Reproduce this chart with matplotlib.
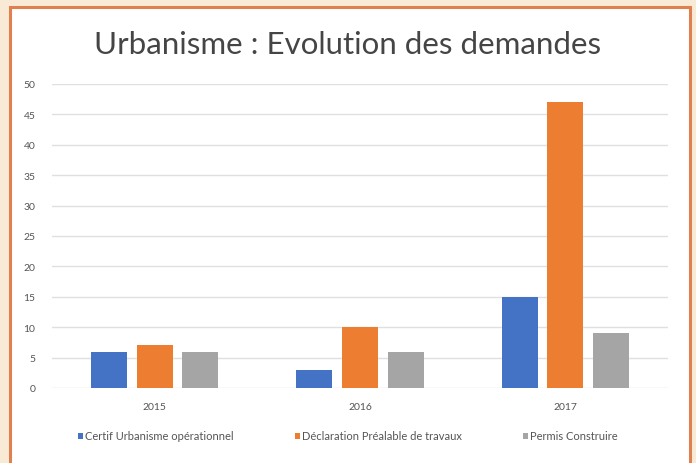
import numpy as np
import matplotlib
matplotlib.use("Agg")
import matplotlib.pyplot as plt
from matplotlib.patches import Rectangle

# data
years = ["2015", "2016", "2017"]
certif = [6, 3, 15]
declaration = [7, 10, 47]
permis = [6, 6, 9]
series_names = ["Certif Urbanisme opérationnel", "Déclaration Préalable de travaux", "Permis Construire"]
colors = ["#4472c4", "#ed7d31", "#a5a5a5"]

plt.rcParams['font.family'] = ['Lato', 'DejaVu Sans']

fig = plt.figure(figsize=(6.96, 4.64), dpi=100)
fig.patch.set_facecolor("#f9ead5")

# white panel with orange frame
panel = Rectangle((10 / 696, -0.05), 680 / 696, (464 - 8) / 464 + 0.05,
                  transform=fig.transFigure, facecolor="white",
                  edgecolor="#e08050", linewidth=2.2, zorder=-10)
fig.patches.append(panel)

ax = fig.add_axes([52 / 696, (464 - 389) / 464, 616 / 696, (389 - 85) / 464])
ax.set_facecolor("none")

x = np.arange(len(years))
w = 0.175
off = 0.223
for i, (vals, name) in enumerate(zip([certif, declaration, permis], series_names)):
    ax.bar(x + (i - 1) * off, vals, width=w, color=colors[i], label=name, zorder=3)

ax.set_xlim(-0.5, 2.5)
ax.set_ylim(0, 50)
ax.set_yticks(range(0, 51, 5))
ax.set_xticks(x)
ax.set_xticklabels(years)
ax.yaxis.grid(True, color="#e0e0e0", linewidth=1)
ax.set_axisbelow(True)
for s in ax.spines.values():
    s.set_visible(False)
ax.tick_params(length=0, labelsize=7.5, labelcolor="#555555")
ax.tick_params(axis="x", pad=10)
ax.tick_params(axis="y", pad=12)

fig.text(0.5, (464 - 45) / 464, "Urbanisme : Evolution des demandes",
         ha="center", va="center", fontsize=22.5, color="#454545")

fig.legend(loc="center", bbox_to_anchor=(0.5, (464 - 437) / 464), ncol=3,
           frameon=False, fontsize=8, handlelength=0.45, handleheight=0.45,
           columnspacing=5.5, handletextpad=0.2, labelcolor="#555555")

fig.savefig("out.png", dpi=100, facecolor=fig.get_facecolor())
